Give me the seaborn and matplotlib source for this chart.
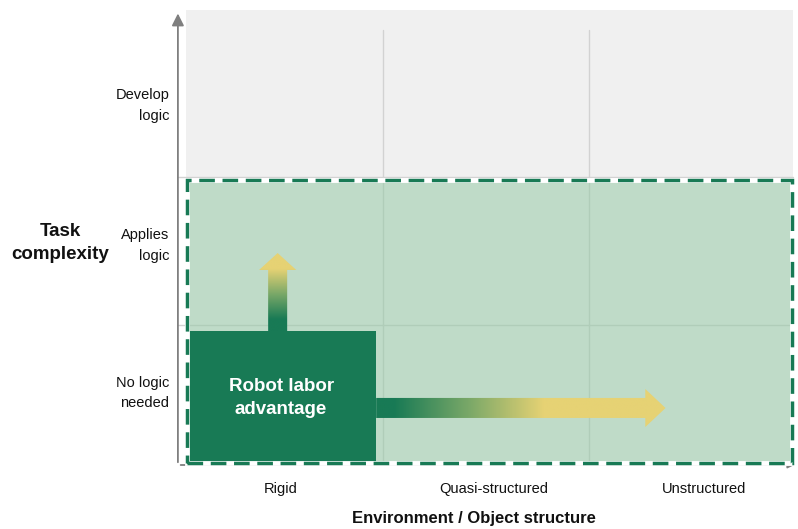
"""
plot.py - robot labor advantage matrix (task complexity vs environment structure)
"""
import numpy as np
import matplotlib
matplotlib.use("Agg")
import matplotlib.pyplot as plt
import seaborn as sns
from matplotlib.patches import Rectangle, Polygon
from matplotlib.colors import LinearSegmentedColormap

# -------------------------
# DATA
# -------------------------
x_categories = ["Rigid", "Quasi-structured", "Unstructured"]
x_label_pos = [0.47, 1.52, 2.56]
y_categories = ["No logic\nneeded", "Applies\nlogic", "Develop\nlogic"]
y_label_pos = [0.55, 1.60, 2.60]
col_edges = [0, 0.975, 1.99, 3]
row_edges = [0, 1.0, 2.057, 3.25]
x_title = "Environment / Object structure"
y_title = "Task\ncomplexity"
box_text = "Robot labor\nadvantage"

# zones (in cell units)
feasible_zone = (0.0, 0.014, 3.0, 2.036)      # x0, y0, x1, y1
advantage_box = (0.0, 0.0, 0.94, 0.957)
up_arrow = dict(x0=0.406, x1=0.50, hx0=0.361, hx1=0.545, y0=0.957, yb=1.393, yt=1.514)
right_arrow = dict(y0=0.336, y1=0.479, hy0=0.271, hy1=0.543, x0=0.94, xb=2.27, xt=2.37)

# -------------------------
# STYLE
# -------------------------
DARK_GREEN = "#187a55"
LIGHT_GREEN = "#bfdbc8"
GRAY_BG = "#f0f0f0"
YELLOW = "#e6d274"
GRID = "#d2d2d2"
AXIS = "#7f7f7f"

sns.set_theme(style="white")
plt.rcParams["font.family"] = ["Liberation Sans", "DejaVu Sans"]

fig = plt.figure(figsize=(7.98, 5.29), dpi=100)
ax = fig.add_axes([186 / 798, 1 - 465 / 529, (793 - 186) / 798, (465 - 10) / 529])
ax.set_xlim(0, 3)
ax.set_ylim(0, row_edges[-1])
ax.set_facecolor("white")
sns.despine(ax=ax, left=True, bottom=True)

# gray background
ax.add_patch(Rectangle((0, 0), 3, row_edges[-1], facecolor=GRAY_BG, edgecolor="none", zorder=0))

# grid lines
for xe in col_edges[1:-1]:
    ax.plot([xe, xe], [0, 3.107], color=GRID, lw=1, zorder=1)
for ye in row_edges[1:-1]:
    ax.plot([-0.04, 3], [ye, ye], color=GRID, lw=1, zorder=1, clip_on=False)

# light green zone with dashed border
fx0, fy0, fx1, fy1 = feasible_zone
ax.add_patch(Rectangle((fx0, fy0), fx1 - fx0, fy1 - fy0, facecolor=LIGHT_GREEN, edgecolor="none", zorder=2))
# grid lines re-drawn faintly over the zone
for xe in col_edges[1:-1]:
    ax.plot([xe, xe], [fy0, fy1], color="#b0cdb9", lw=1, zorder=2.1)
ax.plot([fx0, fx1], [row_edges[1], row_edges[1]], color="#b0cdb9", lw=1, zorder=2.1)

# dark green advantage box
bx0, by0, bx1, by1 = advantage_box
ax.add_patch(Rectangle((bx0, by0), bx1 - bx0, by1 - by0, facecolor=DARK_GREEN, edgecolor="none", zorder=3))
ax.text((bx0 + bx1) / 2, 0.48, box_text, color="white", fontsize=13.5, fontweight="bold",
        ha="center", va="center", linespacing=1.45, zorder=6)

ax.add_patch(Rectangle((fx0 + 0.004, fy0), fx1 - fx0 - 0.008, fy1 - fy0, facecolor="none",
                       edgecolor="white", lw=3.5, zorder=4, clip_on=False))
ax.add_patch(Rectangle((fx0 + 0.004, fy0), fx1 - fx0 - 0.008, fy1 - fy0, facecolor="none",
                       edgecolor=DARK_GREEN, lw=2.5, linestyle=(0, (4.5, 2.2)), zorder=4.5, clip_on=False))

# gradient arrows
cmap = LinearSegmentedColormap.from_list("gy", [DARK_GREEN, "#7aa868", YELLOW])

a = up_arrow
up_poly = Polygon([(a["x0"], a["y0"]), (a["x1"], a["y0"]), (a["x1"], a["yb"]), (a["hx1"], a["yb"]),
                   ((a["hx0"] + a["hx1"]) / 2, a["yt"]), (a["hx0"], a["yb"]), (a["x0"], a["yb"])],
                  closed=True, facecolor="none", edgecolor="none", zorder=5)
ax.add_patch(up_poly)
grad_v = np.clip((np.linspace(0, 1, 256) - 0.15) / 0.65, 0, 1).reshape(-1, 1)
im = ax.imshow(grad_v, cmap=cmap, origin="lower", aspect="auto",
               extent=(a["hx0"], a["hx1"], a["y0"], a["yt"]), zorder=5, interpolation="bilinear")
im.set_clip_path(up_poly)

r = right_arrow
right_poly = Polygon([(r["x0"], r["y0"]), (r["xb"], r["y0"]), (r["xb"], r["hy0"]),
                      (r["xt"], (r["hy0"] + r["hy1"]) / 2), (r["xb"], r["hy1"]), (r["xb"], r["y1"]),
                      (r["x0"], r["y1"])], closed=True, facecolor="none", edgecolor="none", zorder=5)
ax.add_patch(right_poly)
grad_h = np.clip((np.linspace(0, 1, 256) - 0.06) / 0.52, 0, 1).reshape(1, -1)
im2 = ax.imshow(grad_h, cmap=cmap, origin="lower", aspect="auto",
                extent=(r["x0"], r["xt"], r["hy0"], r["hy1"]), zorder=5, interpolation="bilinear")
im2.set_clip_path(right_poly)

ax.set_xlim(0, 3)
ax.set_ylim(0, row_edges[-1])

# axes with arrows
ax.annotate("", xy=(-0.04, 3.245), xytext=(-0.04, 0), annotation_clip=False,
            arrowprops=dict(arrowstyle="-|>,head_length=0.6,head_width=0.3", color=AXIS, lw=1.3))
ax.annotate("", xy=(3.02, 0), xytext=(-0.04, 0), annotation_clip=False,
            arrowprops=dict(arrowstyle="-|>,head_length=0.3,head_width=0.15", color=AXIS, lw=1.3))

# labels
ax.set_xticks(x_label_pos)
ax.set_xticklabels(x_categories, fontsize=10.5, color="#111111")
ax.set_yticks(y_label_pos)
ax.set_yticklabels(y_categories, fontsize=10.5, color="#111111", ha="right", linespacing=1.6)
ax.tick_params(axis="both", length=0)
ax.tick_params(axis="x", pad=12)
ax.tick_params(axis="y", pad=12)

fig.text(474 / 798, 1 - 519 / 529, x_title, fontsize=12, fontweight="bold", ha="center", va="center",
         color="#111111")
fig.text(60 / 798, 1 - 243 / 529, y_title, fontsize=13.5, fontweight="bold", ha="center", va="center",
         linespacing=1.45, color="#111111")

fig.savefig("out.png", dpi=100, facecolor="white")
